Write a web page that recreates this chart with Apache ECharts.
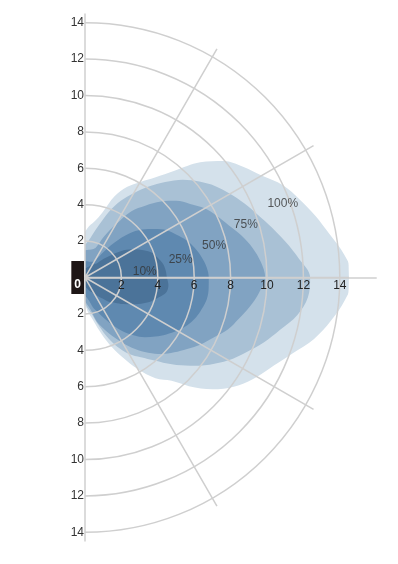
<!DOCTYPE html>
<html><head><meta charset="utf-8">
<script src="https://cdn.jsdelivr.net/npm/echarts@6/dist/echarts.min.js"></script>
<style>html,body{margin:0;padding:0;background:#fff}#c{width:398px;height:564px}</style>
</head><body><div id="c"></div>
<script>
// Elevation angle (deg) of each contour sample, +90 = up, -90 = down
const angles = [90,85,80,75,70,65,60,55,50,45,40,35,30,25,20,15,10,5,0,-5,-10,-15,-20,-25,-30,-35,-40,-45,-50,-55,-60,-65,-70,-75,-80,-85,-90];
// Contour distances (same units as the axes)
const beam100 = [2.5,2.85,3.15,3.7,4.75,5.5,6.05,6.7,7.65,8.95,9.95,10.6,11.2,12.0,12.55,13.1,13.65,14.3,14.74,14.33,13.72,13.03,12.15,11.45,10.92,10.33,9.55,8.55,7.4,6.75,5.8,4.8,3.9,3.0,2.3,1.9,1.5];
const beam75  = [1.8,2.0,2.4,3.0,3.85,4.65,5.35,6.1,6.85,7.6,8.2,8.75,9.2,9.65,10.1,10.63,11.2,11.8,12.37,12.3,11.85,11.1,10.45,9.75,9.1,8.35,7.55,6.75,5.95,5.35,4.85,4.2,3.4,2.6,2.0,1.7,1.4];
const beam50  = [1.5,1.52,1.55,1.6,1.75,2.5,3.35,4.45,5.15,5.9,6.55,7.05,7.6,8.0,8.4,8.9,9.35,9.7,9.9,9.6,9.2,8.75,8.35,7.8,7.35,6.85,6.4,5.95,5.4,4.8,4.15,3.55,3.0,2.5,1.8,1.5,1.3];
const beam25  = [0.9,0.9,0.9,0.9,0.92,0.95,1.04,1.6,2.5,3.4,4.1,4.65,5.2,5.55,5.95,6.25,6.5,6.7,6.8,6.82,6.8,6.65,6.47,6.2,5.85,5.45,5.05,4.65,4.15,3.6,3.0,2.45,2.0,1.7,1.3,1.1,1.0];
const beam10  = [0.5,0.52,0.55,0.6,0.65,0.72,0.8,0.9,1.0,1.45,1.95,2.6,3.1,3.55,3.95,4.15,4.35,4.45,4.5,4.6,4.55,4.2,3.85,3.4,2.95,2.55,2.15,1.9,1.5,1.25,1.03,0.9,0.8,0.7,0.6,0.55,0.5];
const contourNames = ['100%','75%','50%','25%','10%'];
const labelRadius = [11.6, 9.3, 7.3, 5.35, 3.3];
const labelAngle  = [20.5, 18.2, 13.7, 10.7, 5.7];
const tickStep = 2;
const tickMax = 14;

const K = 18.2;           // px per unit
const CX = 85, CY = 277.5;
const R_OUT = 14.5;       // spokes length
const X_MAX = 16;         // horizontal axis length
const GRID = '#cfcfcf';
const FONT = 'Liberation Sans, Arial, sans-serif';
const contourData = [beam100, beam75, beam50, beam25, beam10];
const colors = ['#d4e1eb', '#a9c1d5', '#81a3c2', '#5f89b0', '#4b7399'];

const hiddenAxis = {axisLine:{show:false}, axisTick:{show:false}, axisLabel:{show:false}, splitLine:{show:false}};

const series = contourData.map((arr, i) => ({
  type: 'line', coordinateSystem: 'polar', polarIndex: 1,
  name: contourNames[i],
  data: angles.map((a, j) => [arr[j], a]),
  symbol: 'none', smooth: 0.35, clip: false,
  lineStyle: {width: 0},
  areaStyle: {color: colors[i], opacity: 1},
  z: 2 + i, silent: true
}));
series.push({
  type: 'scatter', coordinateSystem: 'polar', polarIndex: 1,
  symbolSize: 0, z: 20, clip: false,
  data: contourNames.map((n, i) => ({name: n, value: [labelRadius[i], labelAngle[i]]})),
  label: {show: true, position: 'inside', formatter: '{b}', color: '#333', fontSize: 12, fontFamily: FONT}
});

const option = {
  animation: false,
  backgroundColor: '#fff',
  polar: [
    {center: [CX, CY], radius: tickMax * K},
    {center: [CX, CY], radius: R_OUT * K}
  ],
  angleAxis: [
    Object.assign({polarIndex: 0, type: 'value', min: -90, max: 90, startAngle: -90, endAngle: 90, clockwise: false}, hiddenAxis),
    Object.assign({polarIndex: 1, type: 'value', min: -90, max: 90, interval: 30, startAngle: -90, endAngle: 90, clockwise: false, z: 10}, hiddenAxis,
      {splitLine: {show: true, lineStyle: {color: GRID, width: 1.5}}})
  ],
  radiusAxis: [
    Object.assign({polarIndex: 0, type: 'value', min: 0, max: tickMax, interval: tickStep, z: 10}, hiddenAxis,
      {splitLine: {show: true, lineStyle: {color: GRID, width: 1.5}}}),
    Object.assign({polarIndex: 1, type: 'value', min: 0, max: R_OUT}, hiddenAxis)
  ],
  grid: [
    // horizontal distance axis: its bottom edge sits on the origin line
    {left: CX, top: CY - 20, width: X_MAX * K, height: 20, containLabel: false},
    // vertical distance axis
    {left: CX, top: CY - tickMax * K, width: 10, height: 2 * tickMax * K, containLabel: false}
  ],
  xAxis: [
    {
      gridIndex: 0, type: 'value', position: 'bottom', min: 0, max: X_MAX, interval: tickStep, z: 10,
      axisLine: {onZero: false, lineStyle: {color: GRID, width: 1.5}},
      axisTick: {show: false}, splitLine: {show: false},
      axisLabel: {margin: 2, color: '#222', fontSize: 12, fontFamily: FONT,
        formatter: v => (v > 0 && v <= tickMax) ? String(v) : ''}
    },
    {gridIndex: 1, type: 'value', min: 0, max: 1, show: false}
  ],
  yAxis: [
    {gridIndex: 0, type: 'value', min: 0, max: 1, show: false},
    {
      gridIndex: 1, type: 'value', position: 'left', min: -tickMax, max: tickMax, interval: tickStep, z: 10,
      axisLine: {show: false}, axisTick: {show: false}, splitLine: {show: false},
      axisLabel: {margin: 1, color: '#333', fontSize: 12, fontFamily: FONT,
        formatter: v => v === 0 ? '{z|0}' : String(Math.abs(v)),
        rich: {z: {backgroundColor: '#1e1616', color: '#fff', fontSize: 12, fontWeight: 'bold', padding: [18, 3, 3, 3]}}}
    }
  ],
  series: series
};
const chart = echarts.init(document.getElementById('c'), null, {renderer: 'canvas'});
chart.setOption(option);
</script></body></html>
